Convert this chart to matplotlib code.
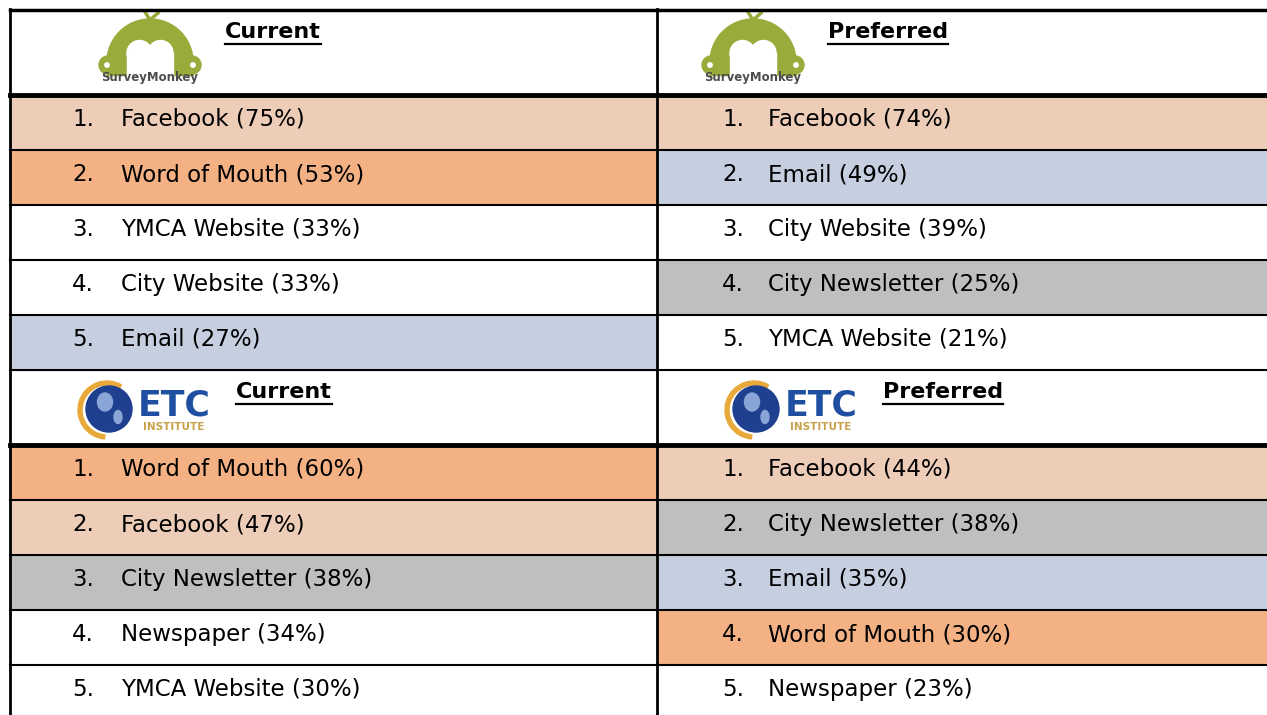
import numpy as np
import matplotlib.pyplot as plt
from matplotlib.patches import Rectangle, Circle, Wedge, Ellipse

# data: ranked sources, current vs preferred, for two surveys
sm_current = ["Facebook", "Word of Mouth", "YMCA Website", "City Website", "Email"]
sm_current_pct = [75, 53, 33, 33, 27]
sm_preferred = ["Facebook", "Email", "City Website", "City Newsletter", "YMCA Website"]
sm_preferred_pct = [74, 49, 39, 25, 21]

etc_current = ["Word of Mouth", "Facebook", "City Newsletter", "Newspaper", "YMCA Website"]
etc_current_pct = [60, 47, 38, 34, 30]
etc_preferred = ["Facebook", "City Newsletter", "Email", "Word of Mouth", "Newspaper"]
etc_preferred_pct = [44, 38, 35, 30, 23]

headers = ["Current", "Preferred"]

# fill colour by source
colours = {
    "Facebook": "#edcdb8",
    "Word of Mouth": "#f4b183",
    "Email": "#c6cfe0",
    "City Newsletter": "#bfbfbf",
}

W, H = 1267, 715
fig = plt.figure(figsize=(W / 100, H / 100), dpi=100)
ax = fig.add_axes([0, 0, 1, 1])
ax.set_xlim(0, W)
ax.set_ylim(H, 0)
ax.axis("off")
renderer = fig.canvas.get_renderer()

x0, xm, x1 = 10, 657, 1267
col_left = [x0, xm]
row_h = 55
font = "DejaVu Sans"


def survey_monkey(cx, top):
    green = "#9aab3c"
    cy = top + 52
    ax.add_patch(Wedge((cx, cy), 43, 180, 360, color=green, zorder=3))
    ax.add_patch(Rectangle((cx - 43, cy - 0.5), 86, 13, color=green, zorder=3))
    for s in (-1, 1):
        ax.add_patch(Circle((cx + s * 42, cy + 3), 9, color=green, zorder=3))
        ax.add_patch(Circle((cx + s * 43, cy + 3), 2.2, color="white", zorder=4))
        ax.add_patch(Circle((cx + s * 10.5, cy - 9), 12.5, color="white", zorder=4))
    ax.add_patch(Rectangle((cx - 23, cy - 9), 46, 23, color="white", zorder=4))
    ax.plot([cx, cx - 5], [cy - 42, cy - 50], color=green, lw=2.5, zorder=3)
    ax.plot([cx, cx + 8], [cy - 42, cy - 49], color=green, lw=2.5, zorder=3)
    ax.text(cx, cy + 15, "SurveyMonkey", fontsize=8.5, fontweight="bold",
            color="#4d4d4d", ha="center", va="center", family=font, zorder=5)


def etc_logo(cx, top):
    cy = top + 38
    ax.add_patch(Wedge((cx, cy + 2), 29, 95, 300, width=4, color="#e8a83a", zorder=3))
    ax.add_patch(Circle((cx + 2, cy + 1), 23, color="#1f3f8f", zorder=4))
    ax.add_patch(Ellipse((cx - 2, cy - 6), 15, 18, color="#8aa6d8", zorder=5))
    ax.add_patch(Ellipse((cx + 11, cy + 9), 8, 13, color="#8aa6d8", zorder=5))
    ax.text(cx + 67, cy - 3, "ETC", fontsize=25, fontweight="bold", color="#1f4fa0",
            ha="center", va="center", family=font, zorder=5)
    ax.text(cx + 67, cy + 19, "INSTITUTE", fontsize=7.5, fontweight="bold", color="#c8a04a",
            ha="center", va="center", family=font, zorder=5)


def block(top, head_h, logo, logo_x, lists, title_x):
    # header row
    for c in range(2):
        t = ax.text(title_x[c], top + 22, headers[c], fontsize=16, fontweight="bold",
                    ha="left", va="center", family=font, zorder=6)
        tw = t.get_window_extent(renderer).width
        ax.plot([title_x[c], title_x[c] + tw], [top + 34, top + 34],
                color="black", lw=1.6, zorder=6)
        logo(logo_x[c], top)
    y = top + head_h
    ax.plot([x0, x1], [y, y], color="black", lw=3.5, zorder=7)
    for c, (names, pcts) in enumerate(lists):
        left = col_left[c]
        right = xm if c == 0 else x1
        for i, (name, p) in enumerate(zip(names, pcts)):
            ry = y + i * row_h
            ax.add_patch(Rectangle((left, ry), right - left, row_h,
                                   color=colours.get(name, "white"), zorder=1))
            ax.text(left + 62 + (3 if c else 0), ry + row_h / 2 - 3, f"{i + 1}.",
                    fontsize=16.5, ha="left", va="center", family=font, zorder=6)
            ax.text(left + 111, ry + row_h / 2 - 3, f"{name} ({p}%)", fontsize=16.5,
                    ha="left", va="center", family=font, zorder=6)
    for i in range(1, 6):
        ax.plot([x0, x1], [y + i * row_h, y + i * row_h], color="black", lw=1.5, zorder=7)
    return y + 5 * row_h


ax.plot([x0, x1], [10, 10], color="black", lw=2.5, zorder=7)
end1 = block(10, 85, survey_monkey, [150, 753],
             [(sm_current, sm_current_pct), (sm_preferred, sm_preferred_pct)], [225, 828])
end2 = block(end1, 75, etc_logo, [107, 754],
             [(etc_current, etc_current_pct), (etc_preferred, etc_preferred_pct)], [236, 883])
ax.plot([x0, x0], [9, H], color="black", lw=2, zorder=7)
ax.plot([xm, xm], [9, H], color="black", lw=2, zorder=7)

fig.savefig("out.png", dpi=100)
